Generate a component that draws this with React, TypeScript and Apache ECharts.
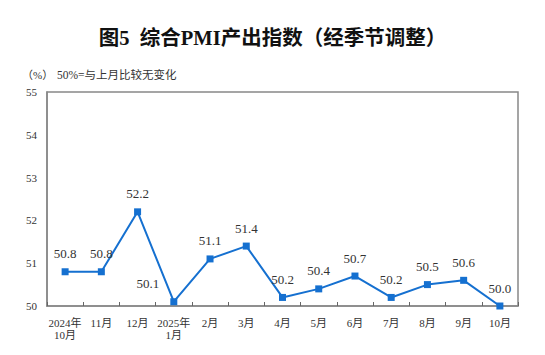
import React, { useEffect, useRef } from "react";
import * as echarts from "echarts";

const categories = ["2024年\n10月", "11月", "12月", "2025年\n1月", "2月", "3月", "4月", "5月", "6月", "7月", "8月", "9月", "10月"];
const values = [50.8, 50.8, 52.2, 50.1, 51.1, 51.4, 50.2, 50.4, 50.7, 50.2, 50.5, 50.6, 50.0];
const yTicks = [50, 51, 52, 53, 54, 55];

const FONT = "'Liberation Serif', 'Times New Roman', 'Noto Sans CJK SC', serif";

export default function App() {
  const ref = useRef<HTMLDivElement>(null);
  useEffect(() => {
    const chart = echarts.init(ref.current!, null, { renderer: "svg" });
    chart.setOption({
      animation: false,
      backgroundColor: "#fff",
      title: [
        {
          text: "图5  综合PMI产出指数（经季节调整）",
          left: "center",
          top: 23,
          textStyle: { fontFamily: FONT, fontSize: 20.5, fontWeight: "bold", color: "#111" },
        },
        {
          text: "（%）",
          left: 17,
          top: 64,
          textStyle: { fontFamily: FONT, fontSize: 11, fontWeight: "normal", color: "#333" },
        },
        {
          text: "50%=与上月比较无变化",
          left: 52,
          top: 64,
          textStyle: { fontFamily: FONT, fontSize: 11.5, fontWeight: "normal", color: "#333" },
        },
      ],
      grid: { left: 47, right: 27, top: 92, bottom: 49, show: true, borderColor: "#888", borderWidth: 1.5 },
      xAxis: {
        type: "category",
        data: categories,
        boundaryGap: true,
        axisLine: { lineStyle: { color: "#888", width: 1.5 } },
        axisTick: { show: true, inside: true, length: 4, alignWithLabel: false, lineStyle: { color: "#666" } },
        axisLabel: { fontFamily: FONT, fontSize: 11, color: "#333", lineHeight: 12, margin: 11, interval: 0 },
      },
      yAxis: {
        type: "value",
        min: yTicks[0],
        max: yTicks[yTicks.length - 1],
        interval: 1,
        splitLine: { show: false },
        axisLine: { show: true, lineStyle: { color: "#888", width: 1.5 } },
        axisTick: { show: false },
        axisLabel: { fontFamily: FONT, fontSize: 11, color: "#333", margin: 10 },
      },
      series: [
        {
          type: "line",
          data: values.map((v, i) =>
            i === 3
              ? { value: v, label: { offset: [-26, 0] } }
              : v
          ),
          symbol: "rect",
          symbolSize: 7,
          lineStyle: { color: "#1570d0", width: 2 },
          itemStyle: { color: "#1570d0" },
          label: {
            show: true,
            position: "top",
            distance: 8,
            formatter: (p: any) => Number(p.value).toFixed(1),
            fontFamily: FONT,
            fontSize: 13,
            color: "#333",
          },
        },
      ],
    });
    return () => chart.dispose();
  }, []);
  return <div ref={ref} style={{ position: "absolute", left: 0, top: 0, width: 545, height: 355 }} />;
}
